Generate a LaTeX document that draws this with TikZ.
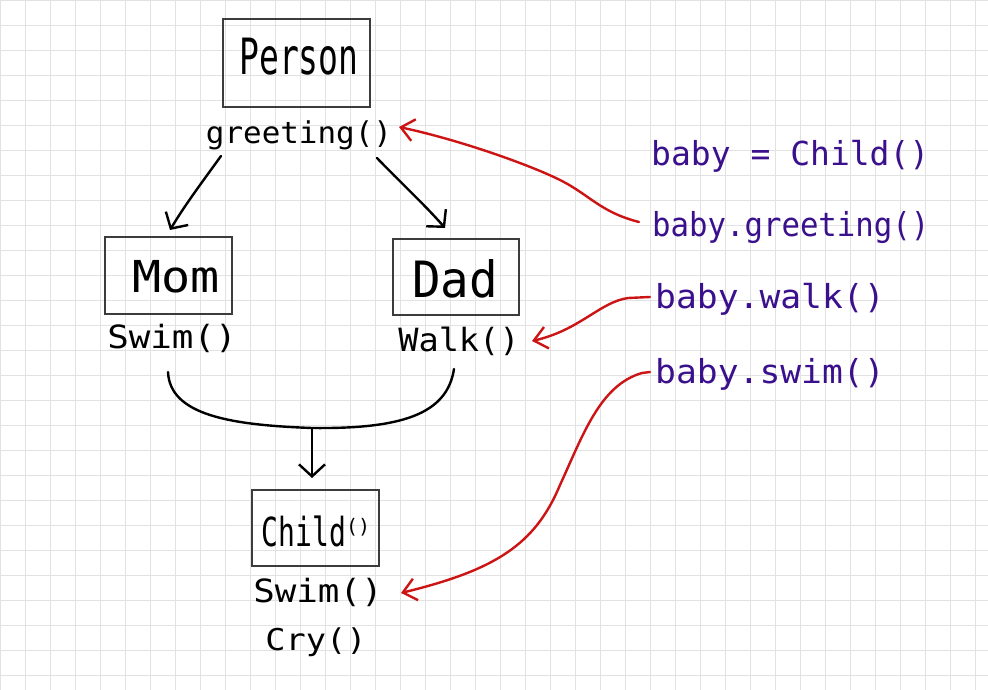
\documentclass[tikz,border=0pt]{standalone}
\usepackage{fontspec}
\newfontfamily\hand{DejaVu Sans Mono}
\usetikzlibrary{arrows.meta}
\definecolor{gridc}{RGB}{226,226,226}
\definecolor{boxc}{RGB}{60,60,60}
\definecolor{redc}{RGB}{205,20,20}
\definecolor{purp}{RGB}{58,16,140}
\newcommand\hw[3]{\scalebox{#1}[1]{\fontsize{#2}{#2}\selectfont #3}}
\begin{document}
\begin{tikzpicture}[x=1pt,y=-1pt,
  box/.style={draw=boxc,line width=1.4pt,inner sep=0pt},
  lbl/.style={inner sep=0pt,anchor=base,font=\hand},
  code/.style={inner sep=0pt,anchor=base west,font=\hand,text=purp},
  blk/.style={line width=2.4pt,line cap=round,line join=round},
  blkarr/.style={blk,-{Straight Barb[length=12pt,width=26pt]}},
  redarr/.style={draw=redc,line width=2.4pt,line cap=round,line join=round,-{Straight Barb[length=13pt,width=22pt]}}]
\useasboundingbox (0,0) rectangle (988,690);
\fill[white] (0,0) rectangle (988,690);
\foreach \i in {0,25,...,975} \draw[gridc,line width=1pt] (\i+0.5,0) -- (\i+0.5,690);
\foreach \j in {0,25,...,675} \draw[gridc,line width=1pt] (0,\j+0.5) -- (988,\j+0.5);

% boxes
\node[box,minimum width=147pt,minimum height=88pt] (person) at (296.5,63) {};
\node[box,minimum width=127pt,minimum height=77pt] (mom) at (168.5,275.5) {};
\node[box,minimum width=126pt,minimum height=76pt] (dad) at (456,277) {};
\node[box,minimum width=127pt,minimum height=76pt] (child) at (315.5,528) {};

% box texts
\node[lbl] (tperson) at (299,75) {\hw{0.66}{50}{Person}};
\node[lbl] (tmom) at (176,292) {\hw{1.1}{44}{Mom}};
\node[lbl] (tdad) at (455,297) {\hw{0.95}{50}{Dad}};
\node[lbl] (tchild) at (316,546) {\scalebox{0.7}[1]{\fontsize{40}{40}\selectfont Child}\raisebox{13pt}{\fontsize{20}{20}\selectfont()}};

% method labels
\node[lbl] (greet) at (299,143) {\hw{1.03}{30}{greeting()}};
\node[lbl] (mswim) at (172,348) {\hw{1.12}{32}{Swim()}};
\node[lbl] (dwalk) at (459,351) {\hw{1.05}{32}{Walk()}};
\node[lbl] (cswim) at (318,602) {\hw{1.12}{32}{Swim()}};
\node[lbl] (ccry) at (316,650) {\hw{1.12}{30}{Cry()}};

% code
\node[code] (c1) at (651,166) {\fontsize{33}{33}\selectfont baby = Child()};
\node[code] (c2) at (652,236) {\hw{0.93}{33}{baby.greeting()}};
\node[code] (c3) at (655,308) {\hw{1.05}{33}{baby.walk()}};
\node[code] (c4) at (655,383) {\hw{1.05}{33}{baby.swim()}};

% connector coordinates
\coordinate (gl) at (221,156);
\coordinate (gr) at (377,158);
\coordinate (momin) at (170,230);
\coordinate (dadin) at (445,228);
\coordinate (ml) at (168,372);
\coordinate (dr) at (454,369);
\coordinate (join) at (312,428);
\coordinate (childin) at (312,478);
\coordinate (greettip) at (399,127);
\coordinate (walktip) at (532,341);
\coordinate (swimtip) at (401,593);
\coordinate (c2s) at (639,222);
\coordinate (c3s) at (650,297);
\coordinate (c4s) at (650,372);

% black arrows
\draw[blkarr] (gl) .. controls (200,185) and (185,205) .. (momin);
\draw[blkarr] (gr) .. controls (400,182) and (425,205) .. (dadin);
\draw[blk] (ml) .. controls (170,415) and (230,425) .. (join) .. controls (400,429) and (447,415) .. (dr);
\draw[blkarr] (join) -- (childin);

% red arrows
\draw[redarr] (c2s) .. controls (600,212) and (590,195) .. (560,180) .. controls (530,165) and (460,140) .. (greettip);
\draw[redarr] (c3s) -- (628,298) .. controls (600,302) and (580,330) .. (walktip);
\draw[redarr] (c4s) -- (642,373) .. controls (600,385) and (583,435) .. (560,485) .. controls (535,545) and (495,570) .. (swimtip);
\end{tikzpicture}
\end{document}
